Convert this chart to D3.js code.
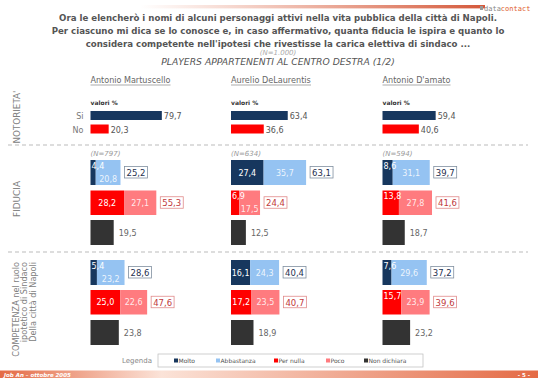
<!DOCTYPE html>
<html><head><meta charset="utf-8">
<script src="https://cdn.jsdelivr.net/npm/d3@7"></script>
<style>body{margin:0;background:#fff}svg{display:block}</style>
</head><body>
<script>
const candidates = ["Antonio Martuscello", "Aurelio DeLaurentis", "Antonio D'amato"];
const notoSi = [79.7, 63.4, 59.4];
const notoNo = [20.3, 36.6, 40.6];
const fidN = ["(N=797)", "(N=634)", "(N=594)"];
const fidMolto = [4.4, 27.4, 8.6];
const fidAbbastanza = [20.8, 35.7, 31.1];
const fidPosTot = [25.2, 63.1, 39.7];
const fidPerNulla = [28.2, 6.9, 13.8];
const fidPoco = [27.1, 17.5, 27.8];
const fidNegTot = [55.3, 24.4, 41.6];
const fidND = [19.5, 12.5, 18.7];
const compMolto = [5.4, 16.1, 7.6];
const compAbbastanza = [23.2, 24.3, 29.6];
const compPosTot = [28.6, 40.4, 37.2];
const compPerNulla = [25.0, 17.2, 15.7];
const compPoco = [22.6, 23.5, 23.9];
const compNegTot = [47.6, 40.7, 39.6];
const compND = [23.8, 18.9, 23.2];
const legendLabels = ["Molto", "Abbastanza", "Per nulla", "Poco", "Non dichiara"];
const titleLines = [
  "Ora le elencherò i nomi di alcuni personaggi attivi nella vita pubblica della città di Napoli.",
  "Per ciascuno mi dica se lo conosce e, in caso affermativo, quanta fiducia le ispira e quanto lo",
  "considera competente nell'ipotesi che rivestisse la carica elettiva di sindaco ..."
];
const compLabelLines = ["COMPETENZA nel ruolo", "ipotetico di Sindaco", "Della città di Napoli"];

const W = 538, H = 378;
const C = {molto:"#17375e", abb:"#95c3f2", perNulla:"#ff0000", poco:"#ff7b7f", nd:"#333333"};
const legendColors = [C.molto, C.abb, C.perNulla, C.poco, C.nd];
const fmt = v => d3.format(".1f")(v).replace(".", ",");
const FONT = "Verdana, 'DejaVu Sans', sans-serif";

const svg = d3.select("body").append("svg").attr("width", W).attr("height", H)
  .style("font-family", FONT);
const defs = svg.append("defs");

function fit(t, w) {
  const l = t.node().getComputedTextLength();
  const fs = parseFloat(t.attr("font-size"));
  if (l > 0) t.attr("font-size", fs * w / l);
  return t;
}

// header gradient
const g1 = defs.append("linearGradient").attr("id","hdr");
g1.append("stop").attr("offset","0%").attr("stop-color","#e0704f").attr("stop-opacity",0);
g1.append("stop").attr("offset","100%").attr("stop-color","#d4583a").attr("stop-opacity",1);
svg.append("rect").attr("x",140).attr("y",5).attr("width",345).attr("height",3).attr("fill","url(#hdr)");
svg.append("rect").attr("x",140).attr("y",8).attr("width",345).attr("height",1).attr("fill","url(#hdr)").attr("opacity",0.4);
svg.append("rect").attr("x",480).attr("y",6).attr("width",3).attr("height",4).attr("fill","#999");
const dc = svg.append("text").attr("x",484).attr("y",11).attr("font-size",7).attr("font-family","'DejaVu Sans Mono', monospace");
dc.append("tspan").attr("fill","#888").text("data");
dc.append("tspan").attr("fill","#e0602e").text("contact");

// title
const tl = svg.append("g");
const t0 = tl.append("text").attr("x",278).attr("y",21).attr("text-anchor","middle")
  .attr("font-size",10).attr("font-weight","bold").attr("fill","#555").text(titleLines[0]);
fit(t0, 439);
const tfs = t0.attr("font-size");
[1,2].forEach(i => tl.append("text").attr("x",278).attr("y",21 + 13*i).attr("text-anchor","middle")
  .attr("font-size",tfs).attr("font-weight","bold").attr("fill","#555").text(titleLines[i]));
svg.append("text").attr("x",278).attr("y",55).attr("text-anchor","middle").attr("font-size",7)
  .attr("font-style","italic").attr("fill","#aaa").text("(N=1.000)");
fit(svg.append("text").attr("x",278).attr("y",65).attr("text-anchor","middle").attr("font-size",7.5)
  .attr("font-style","italic").attr("fill","#555").text("PLAYERS APPARTENENTI AL CENTRO DESTRA (1/2)"), 234);

const colStart = [90.5, 231, 382.5];
const xNoto = d3.scaleLinear().domain([0,100]).range([0,89.5]);
const xBar = d3.scaleLinear().domain([0,100]).range([0,119]);

// headers
const headW = [80, 80, 68];
candidates.forEach((c,i) => {
  const t = svg.append("text").attr("x",colStart[i]).attr("y",83).attr("font-size",8).attr("fill","#666").text(c);
  fit(t, headW[i]);
  svg.append("line").attr("x1",colStart[i]).attr("x2",colStart[i]+headW[i]).attr("y1",85).attr("y2",85)
    .attr("stroke","#888").attr("stroke-width",0.7);
});

// section labels
function vlabel(x, y, txt, anchor, fs) {
  return svg.append("text").attr("transform",`translate(${x},${y}) rotate(-90)`).attr("text-anchor",anchor)
    .attr("font-size",fs).attr("fill","#808080").text(txt);
}
fit(vlabel(19.5, 117, "NOTORIETA'", "middle", 8), 53);
fit(vlabel(19.5, 199, "FIDUCIA", "middle", 8), 36);
const cl0 = fit(vlabel(18.5, 262, compLabelLines[0], "end", 8), 95);
const cfs = cl0.attr("font-size");
vlabel(27, 262, compLabelLines[1], "end", cfs);
vlabel(36, 262, compLabelLines[2], "end", cfs);

// dashed separators
[145, 252].forEach(y => svg.append("line").attr("x1",8).attr("x2",528).attr("y1",y).attr("y2",y)
  .attr("stroke","#aaa").attr("stroke-dasharray","4,3").attr("stroke-width",0.8));

// notorieta
candidates.forEach((c,i) => {
  const x0 = colStart[i];
  svg.append("text").attr("x",x0).attr("y",105).attr("font-size",6).attr("font-weight","bold").attr("fill","#333").text("valori %");
  const rows = [{v:notoSi[i], col:C.molto, y:111, lab:"Si"}, {v:notoNo[i], col:C.perNulla, y:124.5, lab:"No"}];
  rows.forEach(r => {
    svg.append("rect").attr("x",x0).attr("y",r.y).attr("width",xNoto(r.v)).attr("height",9).attr("fill",r.col);
    svg.append("text").attr("x",x0+xNoto(r.v)+2).attr("y",r.y+8).attr("font-size",8).attr("fill","#555").text(fmt(r.v));
    if (i===0) svg.append("text").attr("x",x0-7).attr("y",r.y+8).attr("text-anchor","end").attr("font-size",8).attr("fill","#777").text(r.lab);
  });
});

// stacked sections
function stackRow(x0, y, h, a, b, ca, cb, tot, boxText, boxStroke) {
  const wa = xBar(a), wb = xBar(b);
  svg.append("rect").attr("x",x0).attr("y",y).attr("width",wa).attr("height",h).attr("fill",ca);
  svg.append("rect").attr("x",x0+wa).attr("y",y).attr("width",wb).attr("height",h).attr("fill",cb);
  const mid = y + h/2 + 3;
  if (a < 16) {
    svg.append("text").attr("x",x0+1).attr("y",y+8.5).attr("font-size",8).attr("fill","#fff").text(fmt(a));
  } else {
    svg.append("text").attr("x",x0+wa/2).attr("y",mid).attr("text-anchor","middle").attr("font-size",8).attr("fill","#fff").text(fmt(a));
  }
  svg.append("text").attr("x",x0+wa+wb/2).attr("y",a < 7 ? mid+6 : mid).attr("text-anchor","middle")
    .attr("font-size",8).attr("fill","#fff").attr("fill-opacity",0.85).text(fmt(b));
  const bx = x0 + xBar(tot) + 4;
  const t = svg.append("text").attr("x",bx+2).attr("y",y+h/2+3.5).attr("font-size",8.5).attr("fill",boxText).text(fmt(tot));
  const tw = t.node().getComputedTextLength();
  svg.append("rect").attr("x",bx).attr("y",y+h/2-6).attr("width",tw+4).attr("height",11.5)
    .attr("fill","#fff").attr("stroke",boxStroke).attr("stroke-width",0.8);
  t.raise();
}
function ndRow(x0, y, h, v) {
  svg.append("rect").attr("x",x0).attr("y",y).attr("width",xBar(v)).attr("height",h).attr("fill",C.nd);
  svg.append("text").attr("x",x0+xBar(v)+5).attr("y",y+h/2+3).attr("font-size",8).attr("fill","#666").text(fmt(v));
}
candidates.forEach((c,i) => {
  const x0 = colStart[i];
  svg.append("text").attr("x",x0).attr("y",155.5).attr("font-size",7).attr("font-style","italic").attr("fill","#999").text(fidN[i]);
  stackRow(x0, 160, 25, fidMolto[i], fidAbbastanza[i], C.molto, C.abb, fidPosTot[i], "#1f3050", "#8090a0");
  stackRow(x0, 190.5, 24.5, fidPerNulla[i], fidPoco[i], C.perNulla, C.poco, fidNegTot[i], "#c0393b", "#e08a8a");
  ndRow(x0, 220, 25, fidND[i]);
  stackRow(x0, 260, 25, compMolto[i], compAbbastanza[i], C.molto, C.abb, compPosTot[i], "#1f3050", "#8090a0");
  stackRow(x0, 290, 24.5, compPerNulla[i], compPoco[i], C.perNulla, C.poco, compNegTot[i], "#c0393b", "#e08a8a");
  ndRow(x0, 320, 25, compND[i]);
});

// legend
svg.append("text").attr("x",122).attr("y",363).attr("font-size",7).attr("fill","#888").text("Legenda");
svg.append("rect").attr("x",158).attr("y",354).attr("width",265).attr("height",13).attr("fill","#fff").attr("stroke","#bbb").attr("stroke-width",0.7);
const legX = [174, 216, 274, 326, 364];
legendLabels.forEach((l,i) => {
  svg.append("rect").attr("x",legX[i]).attr("y",358.5).attr("width",4).attr("height",4).attr("fill",legendColors[i]);
  svg.append("text").attr("x",legX[i]+4.5).attr("y",362.8).attr("font-size",6).attr("fill","#555").text(l);
});

// footer
const g2 = defs.append("linearGradient").attr("id","ftr");
g2.append("stop").attr("offset","0%").attr("stop-color","#e46a45");
g2.append("stop").attr("offset","30%").attr("stop-color","#fbe3d8");
g2.append("stop").attr("offset","100%").attr("stop-color","#e46a45");
svg.append("rect").attr("x",0).attr("y",370.5).attr("width",W).attr("height",7.5).attr("fill","url(#ftr)");
svg.append("text").attr("x",4).attr("y",376.5).attr("font-size",5.5).attr("font-weight","bold").attr("font-style","italic")
  .attr("fill","#fff").text("Job An – ottobre 2005");
svg.append("text").attr("x",530).attr("y",376.5).attr("text-anchor","end").attr("font-size",5.5).attr("font-weight","bold")
  .attr("fill","#fff").text("- 5 -");
</script>
</body></html>
